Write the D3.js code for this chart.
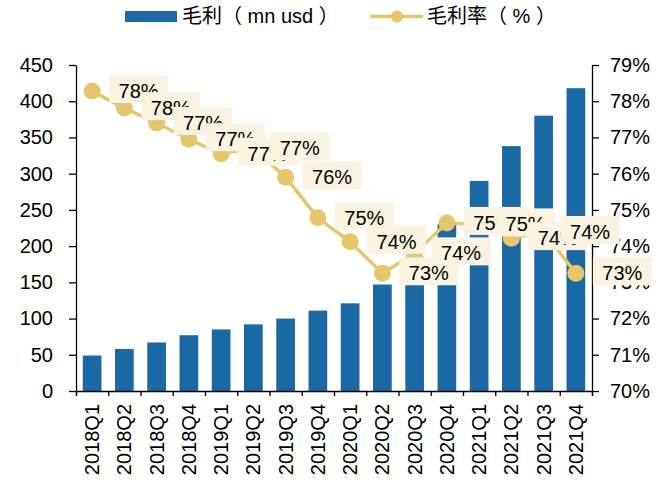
<!DOCTYPE html>
<html>
<head>
<meta charset="utf-8">
<script src="https://cdn.jsdelivr.net/npm/d3@7"></script>
<style>
  body { margin: 0; background: #fff; }
  text { font-family: "Liberation Sans", Arial, "Noto Sans CJK SC", sans-serif; }
  .axis path, .axis line { stroke: #000; stroke-width: 1.3; }
  .axis text { fill: #000; }
</style>
</head>
<body>
<script>

var quarters = ["2018Q1","2018Q2","2018Q3","2018Q4","2019Q1","2019Q2","2019Q3","2019Q4",
                "2020Q1","2020Q2","2020Q3","2020Q4","2021Q1","2021Q2","2021Q3","2021Q4"];
var grossProfit = [49, 58, 67, 77, 85, 92, 100, 111, 121, 147, 185, 230, 290, 338, 380, 418];
var grossMargin = [78.28, 77.81, 77.4, 76.95, 76.55, 76.7, 75.9, 74.78, 74.12, 73.25, 73.8, 74.64, 74.6, 74.22, 74.39, 73.25];
var leftTicks = [0, 50, 100, 150, 200, 250, 300, 350, 400, 450];
var rightTicks = [70, 71, 72, 73, 74, 75, 76, 77, 78, 79];
var legendNames = ["毛利（ mn usd ）", "毛利率（ % ）"];

var W = 670, H = 485;
var margin = {top: 65, right: 78, bottom: 94, left: 76},
    width = W - margin.left - margin.right,
    height = H - margin.top - margin.bottom;

var barColor = "#1a69a4",
    lineColor = "#e5c66a",
    boxColor = "#faf3e1";

var svg = d3.select("body").append("svg")
    .attr("width", W)
    .attr("height", H);

var g = svg.append("g")
    .attr("transform", "translate(" + margin.left + "," + margin.top + ")");

var x = d3.scaleBand().domain(quarters).range([0, width])
    .paddingInner(0.42).paddingOuter(0.21);
var xEdges = d3.scaleLinear().domain([0, quarters.length]).range([0, width]);
var y = d3.scaleLinear().domain([0, 450]).range([height, 0]);
var y2 = d3.scaleLinear().domain([70, 79]).range([height, 0]);

// bars
g.selectAll(".bar")
    .data(grossProfit)
  .enter().append("rect")
    .attr("class", "bar")
    .attr("x", function(d, i) { return x(quarters[i]); })
    .attr("width", x.bandwidth())
    .attr("y", function(d) { return y(d); })
    .attr("height", function(d) { return height - y(d); })
    .style("fill", barColor);

// left axis
g.append("g")
    .attr("class", "axis axis--y")
    .call(d3.axisLeft(y).tickValues(leftTicks).tickSize(7).tickPadding(16).tickSizeOuter(0))
    .selectAll("text").style("font-size", "20px");

// right axis
g.append("g")
    .attr("class", "axis axis--y2")
    .attr("transform", "translate(" + width + ",0)")
    .call(d3.axisRight(y2).tickValues(rightTicks).tickSize(7).tickPadding(11).tickSizeOuter(0)
        .tickFormat(function(d) { return d + "%"; }))
    .selectAll("text").style("font-size", "20px");

// x axis: boundary ticks
g.append("g")
    .attr("class", "axis axis--x")
    .attr("transform", "translate(0," + height + ")")
    .call(d3.axisBottom(xEdges).ticks(quarters.length).tickSize(5).tickSizeOuter(5).tickFormat(""));

// x axis: labels
var xl = g.append("g")
    .attr("class", "axis axis--xl")
    .attr("transform", "translate(0," + height + ")")
    .call(d3.axisBottom(x).tickSize(0));
xl.select(".domain").remove();
xl.selectAll("text")
    .style("font-size", "20px")
    .style("text-anchor", "end")
    .attr("transform", "rotate(-90)")
    .attr("x", -13)
    .attr("y", 0)
    .attr("dy", "0.35em");

// line
var line = d3.line()
    .x(function(d, i) { return x(quarters[i]) + x.bandwidth() / 2; })
    .y(function(d) { return y2(d); });

g.append("path")
    .datum(grossMargin)
    .attr("d", line)
    .style("fill", "none")
    .style("stroke", lineColor)
    .style("stroke-width", 3.5);

g.selectAll(".dot")
    .data(grossMargin)
  .enter().append("circle")
    .attr("class", "dot")
    .attr("cx", function(d, i) { return x(quarters[i]) + x.bandwidth() / 2; })
    .attr("cy", function(d) { return y2(d); })
    .attr("r", 8.5)
    .style("fill", lineColor);

// data labels
var fmt = d3.format(".0f");
var labels = g.selectAll(".dlabel")
    .data(grossMargin)
  .enter().append("g")
    .attr("class", "dlabel")
    .attr("transform", function(d, i) {
      return "translate(" + (x(quarters[i]) + x.bandwidth() / 2 + 46.5) + "," + y2(d) + ")";
    });

labels.append("rect")
    .attr("x", -29.5)
    .attr("y", -16)
    .attr("width", 59)
    .attr("height", 28)
    .style("fill", boxColor);

labels.append("text")
    .attr("text-anchor", "middle")
    .attr("y", 7)
    .style("font-size", "20px")
    .text(function(d) { return fmt(d) + "%"; });

// legend
var legend = svg.append("g");
legend.append("rect")
    .attr("x", 125).attr("y", 11)
    .attr("width", 52).attr("height", 11)
    .style("fill", barColor);
legend.append("text")
    .attr("x", 182).attr("y", 23)
    .style("font-size", "20px")
    .text(legendNames[0]);
legend.append("line")
    .attr("x1", 370).attr("x2", 423).attr("y1", 16.5).attr("y2", 16.5)
    .style("stroke", lineColor).style("stroke-width", 3.5);
legend.append("circle")
    .attr("cx", 397).attr("cy", 16.5).attr("r", 6)
    .style("fill", lineColor);
legend.append("text")
    .attr("x", 427).attr("y", 23)
    .style("font-size", "20px")
    .text(legendNames[1]);

</script>
</body>
</html>
